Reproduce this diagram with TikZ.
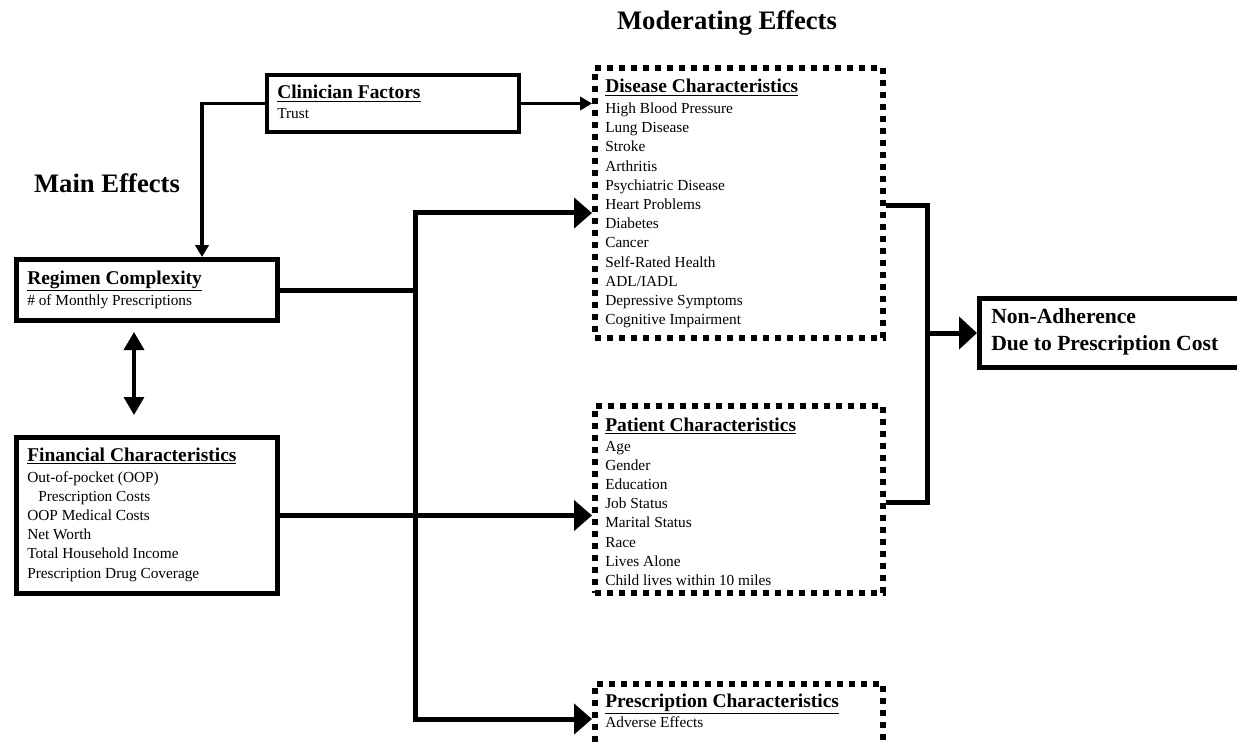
\documentclass[tikz,border=0pt]{standalone}
\usepackage{fontspec}
\setmainfont{Liberation Serif}
\usetikzlibrary{arrows.meta,calc}
\begin{document}
\begin{tikzpicture}[x=0.75pt,y=-0.75pt,
  solidbox/.style={draw, line width=#1, anchor=north west, inner sep=0pt},
  dotbox/.style={draw, line width=4.4pt, dash pattern=on 4.4pt off 4.6pt, anchor=north west, inner sep=0pt},
  hdtext/.style={anchor=base west, inner sep=0pt, font=\fontsize{14.6}{17}\selectfont\bfseries},
  itemtext/.style={anchor=base west, inner sep=0pt, font=\fontsize{11.5}{14}\selectfont},
  titletext/.style={anchor=base, inner sep=0pt, font=\fontsize{20}{24}\selectfont\bfseries},
  nontext/.style={anchor=base west, inner sep=0pt, font=\fontsize{16.2}{20}\selectfont\bfseries},
  mainconn/.style={line width=3.75pt, line join=miter},
  thinconn/.style={line width=2.5pt, line join=miter},
  dblconn/.style={line width=2.6pt},
  bigtip/.style={-{Triangle[length=13.5pt,width=22.5pt]}},
  bothbig/.style={{Triangle[length=13.5pt,width=22.5pt]}-{Triangle[length=13.5pt,width=22.5pt]}},
  smalltip/.style={-{Triangle[length=9pt,width=10pt]}},
  dbltips/.style={{Triangle[length=13.5pt,width=15pt]}-{Triangle[length=13.5pt,width=15pt]}}
]
\useasboundingbox (0,0) rectangle (1237,745);
\clip (0,0) rectangle (1237,745);

% titles
\node[titletext] (tmod) at (727,30) {Moderating Effects};
\node[titletext] (tmain) at (107,193) {Main Effects};

% boxes
\node[solidbox=3pt, minimum width=189pt, minimum height=42.75pt] (clin) at (265,73) {};
\node[solidbox=3.75pt, minimum width=195.75pt, minimum height=45.75pt] (reg) at (14,257) {};
\node[solidbox=3.75pt, minimum width=195.75pt, minimum height=117pt] (fin) at (14,435) {};
\node[dotbox, minimum width=216pt, minimum height=202.5pt] (dis) at (592,65) {};
\node[dotbox, minimum width=216pt, minimum height=140.25pt] (pat) at (592,403) {};
\node[dotbox, minimum width=216pt, minimum height=60pt] (pre) at (592,681) {};
\node[solidbox=3.4pt, minimum width=201.4pt, minimum height=52.1pt] (non) at (977,296) {};

% clinician text
\node[hdtext] (clinh) at (277,99) {\underline{Clinician Factors}};
\node[itemtext] (clin1) at (277,119) {Trust};

% regimen text
\node[hdtext] (regh) at (27,284) {\underline{Regimen Complexity}};
\node[itemtext] (reg1) at (27,305) {\# of Monthly Prescriptions};

% financial text
\node[hdtext] (finh) at (27,461) {\underline{Financial Characteristics}};
\node[itemtext] (fin1) at (27,482) {Out-of-pocket (OOP)};
\node[itemtext] (fin2) at (38,501.2) {Prescription Costs};
\node[itemtext] (fin3) at (27,520.4) {OOP Medical Costs};
\node[itemtext] (fin4) at (27,539.6) {Net Worth};
\node[itemtext] (fin5) at (27,558.8) {Total Household Income};
\node[itemtext] (fin6) at (27,578) {Prescription Drug Coverage};

% disease text
\node[hdtext] (dish) at (605,93) {\underline{Disease Characteristics}};
\foreach \t [count=\i] in {High Blood Pressure, Lung Disease, Stroke, Arthritis, Psychiatric Disease, Heart Problems, Diabetes, Cancer, Self-Rated Health, ADL/IADL, Depressive Symptoms, Cognitive Impairment}
  \node[itemtext] (dis\i) at (605,{113.5+(\i-1)*19.2}) {\t};

% patient text
\node[hdtext] (path) at (605,431) {\underline{Patient Characteristics}};
\foreach \t [count=\i] in {Age, Gender, Education, Job Status, Marital Status, Race, Lives Alone, Child lives within 10 miles}
  \node[itemtext] (pat\i) at (605,{451+(\i-1)*19.2}) {\t};

% prescription text
\node[hdtext] (preh) at (605,707) {\underline{Prescription Characteristics}};
\node[itemtext] (pre1) at (605,727) {Adverse Effects};

% outcome text
\node[nontext] (non1) at (991,323) {Non-Adherence};
\node[nontext] (non2) at (991,350) {Due to Prescription Cost};

% helper coordinates
\coordinate (rax) at (202,0);
\coordinate (jt) at (415,213);
\coordinate (jb) at (415,719);
\coordinate (bt) at (927,206);
\coordinate (bb) at (927,502);
\coordinate (dx) at (134,0);

% connectors
\draw[thinconn, smalltip] (clin.west) -| (reg.north -| rax);
\draw[thinconn, smalltip] (clin.east) -- (clin.east -| dis.west);
\draw[mainconn] (reg.east) -- (reg.east -| jt);
\draw[mainconn, bothbig] (jt -| dis.west) -- (jt) -- (jb) -- (jb -| pre.west);
\draw[mainconn, bigtip] (fin.east) -- (fin.east -| pat.west);
\draw[mainconn] (bt -| dis.east) -- (bt) -- (bb) -- (bb -| pat.east);
\draw[mainconn, -{Triangle[length=13.5pt,width=24pt]}] (non.west -| bt) -- (non.west);
\draw[dblconn, dbltips] ($(reg.south -| dx)+(0,9)$) -- ($(fin.north -| dx)+(0,-20)$);
\end{tikzpicture}
\end{document}
